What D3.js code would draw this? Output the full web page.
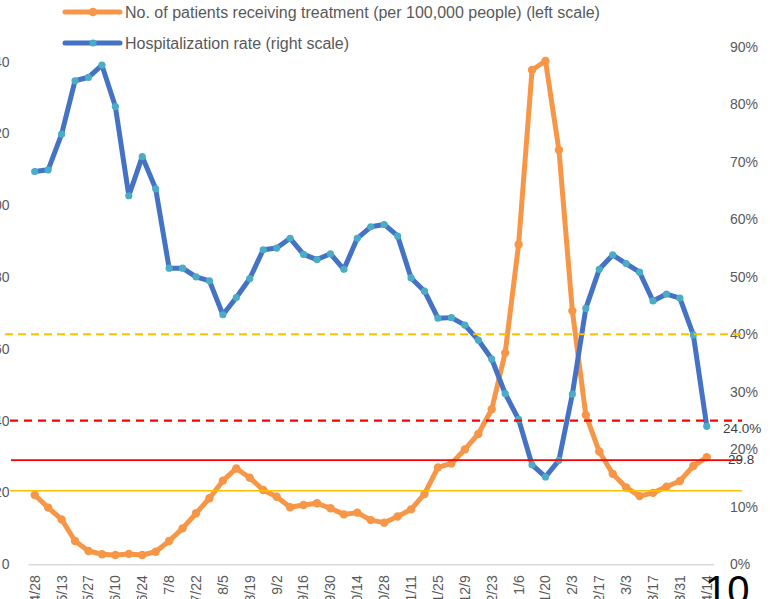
<!DOCTYPE html>
<html lang="en">
<head>
<meta charset="UTF-8">
<title>Patients receiving treatment and hospitalization rate</title>
<script src="https://d3js.org/d3.v7.min.js"></script>
<style>
    body { margin: 0; background: #fff; }
    text { font-family: "Liberation Sans", Arial, sans-serif; }
</style>
</head>
<body>
<svg id="chart"></svg>
<script>

    // weekly dates (every other one is labelled)
    var weeks = ["4/28", "5/6", "5/13", "5/20", "5/27", "6/3", "6/10", "6/17", "6/24", "7/1",
        "7/8", "7/15", "7/22", "7/29", "8/5", "8/12", "8/19", "8/26", "9/2", "9/9",
        "9/16", "9/23", "9/30", "10/7", "10/14", "10/21", "10/28", "11/4", "11/11", "11/18",
        "11/25", "12/2", "12/9", "12/16", "12/23", "12/30", "1/6", "1/13", "1/20", "1/27",
        "2/3", "2/10", "2/17", "2/24", "3/3", "3/10", "3/17", "3/24", "3/31", "4/7", "4/14"];

    // no. of patients receiving treatment per 100,000 people (left scale)
    var patients = [19.3, 15.8, 12.5, 6.5, 3.7, 2.8, 2.6, 2.9, 2.6, 3.5,
        6.5, 10.0, 14.2, 18.4, 23.3, 26.7, 24.1, 20.7, 18.8, 15.9,
        16.5, 17.0, 15.6, 13.9, 14.4, 12.3, 11.6, 13.3, 15.3, 19.6,
        27.0, 28.1, 32.0, 36.3, 43.2, 58.9, 89.1, 137.7, 140.2, 115.4,
        70.6, 41.6, 31.4, 25.2, 21.4, 19.0, 19.9, 21.6, 23.2, 27.4, 29.8];

    // hospitalization rate (right scale)
    var hospRate = [0.683, 0.686, 0.748, 0.841, 0.847, 0.868, 0.796, 0.641, 0.709, 0.653,
        0.515, 0.515, 0.500, 0.493, 0.434, 0.464, 0.497, 0.547, 0.550, 0.567,
        0.539, 0.530, 0.540, 0.513, 0.567, 0.587, 0.591, 0.571, 0.498, 0.475,
        0.428, 0.429, 0.416, 0.390, 0.357, 0.297, 0.252, 0.173, 0.152, 0.181,
        0.296, 0.445, 0.513, 0.538, 0.523, 0.508, 0.458, 0.470, 0.463, 0.399, 0.240];

    var leftTicks = [0, 20, 40, 60, 80, 100, 120, 140];
    var rightTicks = [0, 0.1, 0.2, 0.3, 0.4, 0.5, 0.6, 0.7, 0.8, 0.9];

    // threshold lines drawn across the chart
    var refLines = [
        {axis: "right", value: 0.40, kind: "yellowDash"},
        {axis: "left", value: 40, kind: "redDash"},
        {axis: "left", value: 29, kind: "red"},
        {axis: "left", value: 20.5, kind: "yellow"}
    ];

    var legendLabels = ["No. of patients receiving treatment (per 100,000 people) (left scale)",
        "Hospitalization rate (right scale)"];

    var orange = "#F79646", blue = "#4472C4", aqua = "#4BACC6", grey = "#595959";

    var svg = d3.select("#chart")
            .attr("width", 770)
            .attr("height", 599);

    var x = d3.scaleBand()
            .domain(weeks)
            .range([28, 713.5])
            .padding(0);
    var half = x.bandwidth() / 2;

    var yLeft = d3.scaleLinear().domain([0, 140]).range([564.3, 61.7]);
    var yRight = d3.scaleLinear().domain([0, 0.9]).range([564.3, 46.8]);

    // left axis (labels only)
    var leftAxis = svg.append("g")
            .attr("transform", "translate(9.5,0)")
            .call(d3.axisLeft(yLeft).tickValues(leftTicks).tickSize(0).tickPadding(0));
    leftAxis.select(".domain").remove();
    leftAxis.selectAll("text").attr("fill", grey).style("font-size", "14px");

    // right axis (labels only)
    var rightAxis = svg.append("g")
            .attr("transform", "translate(730,0)")
            .call(d3.axisRight(yRight).tickValues(rightTicks).tickFormat(d3.format(".0%"))
                .tickSize(0).tickPadding(0));
    rightAxis.select(".domain").remove();
    rightAxis.selectAll("text").attr("fill", grey).style("font-size", "14px");

    // category axis
    var xAxis = svg.append("g")
            .attr("transform", "translate(0,564.3)")
            .call(d3.axisBottom(x)
                .tickValues(weeks.filter(function (d, i) { return i % 2 === 0; }))
                .tickSize(0));
    xAxis.select(".domain").attr("stroke", "#D9D9D9").attr("stroke-width", 1.5);
    xAxis.selectAll("text")
            .attr("fill", grey)
            .style("font-size", "14px")
            .attr("transform", "rotate(-90)")
            .attr("text-anchor", "end")
            .attr("x", -11)
            .attr("y", 0)
            .attr("dy", ".35em");

    var idx = d3.range(weeks.length);
    var cx = function (i) { return x(weeks[i]) + half; };

    // orange series (left scale)
    var orangeLine = d3.line()
            .x(cx)
            .y(function (i) { return yLeft(patients[i]); });
    svg.append("path")
            .attr("d", orangeLine(idx))
            .attr("fill", "none")
            .attr("stroke", orange)
            .attr("stroke-width", 5)
            .attr("stroke-linejoin", "round");
    svg.append("g").selectAll("circle")
            .data(idx)
            .enter().append("circle")
            .attr("cx", cx)
            .attr("cy", function (i) { return yLeft(patients[i]); })
            .attr("r", 4.2)
            .attr("fill", orange);

    // blue series (right scale)
    var blueLine = d3.line()
            .x(cx)
            .y(function (i) { return yRight(hospRate[i]); });
    svg.append("path")
            .attr("d", blueLine(idx))
            .attr("fill", "none")
            .attr("stroke", blue)
            .attr("stroke-width", 5)
            .attr("stroke-linejoin", "round");
    svg.append("g").selectAll("circle")
            .data(idx)
            .enter().append("circle")
            .attr("cx", cx)
            .attr("cy", function (i) { return yRight(hospRate[i]); })
            .attr("r", 3.6)
            .attr("fill", aqua);

    // reference lines
    var refStyle = {
        yellowDash: {stroke: "#FFC000", width: 2, dash: "8,5", x1: 5},
        redDash: {stroke: "#FF0000", width: 2.2, dash: "8,6", x1: 10},
        red: {stroke: "#FF0000", width: 1.8, dash: null, x1: 11},
        yellow: {stroke: "#FFC000", width: 1.6, dash: null, x1: 10}
    };
    svg.append("g").selectAll("line")
            .data(refLines)
            .enter().append("line")
            .attr("x1", function (d) { return refStyle[d.kind].x1; })
            .attr("x2", 742)
            .attr("y1", function (d) { return d.axis === "left" ? yLeft(d.value) : yRight(d.value); })
            .attr("y2", function (d) { return d.axis === "left" ? yLeft(d.value) : yRight(d.value); })
            .attr("stroke", function (d) { return refStyle[d.kind].stroke; })
            .attr("stroke-width", function (d) { return refStyle[d.kind].width; })
            .attr("stroke-dasharray", function (d) { return refStyle[d.kind].dash; });

    // last value labels
    var last = weeks.length - 1;
    svg.append("text")
            .attr("x", 723)
            .attr("y", yRight(hospRate[last]) + 2)
            .attr("dy", ".35em")
            .attr("fill", "#404040")
            .style("font-size", "13.5px")
            .text(d3.format(".1%")(hospRate[last]));
    svg.append("text")
            .attr("x", 728)
            .attr("y", yLeft(patients[last]) + 2)
            .attr("dy", ".35em")
            .attr("fill", "#404040")
            .style("font-size", "13.5px")
            .text(d3.format(".1f")(patients[last]));

    // legend
    var legend = svg.append("g").selectAll("g")
            .data(legendLabels)
            .enter().append("g")
            .attr("transform", function (d, i) { return "translate(0," + (12 + i * 31) + ")"; });
    legend.append("line")
            .attr("x1", 65).attr("x2", 120)
            .attr("stroke", function (d, i) { return i === 0 ? orange : blue; })
            .attr("stroke-width", 5)
            .attr("stroke-linecap", "round");
    legend.append("circle")
            .attr("cx", 93)
            .attr("r", function (d, i) { return i === 0 ? 4.2 : 3.6; })
            .attr("fill", function (d, i) { return i === 0 ? orange : aqua; });
    legend.append("text")
            .attr("x", 125)
            .attr("dy", ".35em")
            .attr("fill", grey)
            .style("font-size", "16px")
            .text(function (d) { return d; });

    // slide number
    svg.append("text")
            .attr("x", 705)
            .attr("y", 604)
            .attr("fill", "#000")
            .style("font-size", "40px")
            .text("10");
</script>
</body>
</html>
